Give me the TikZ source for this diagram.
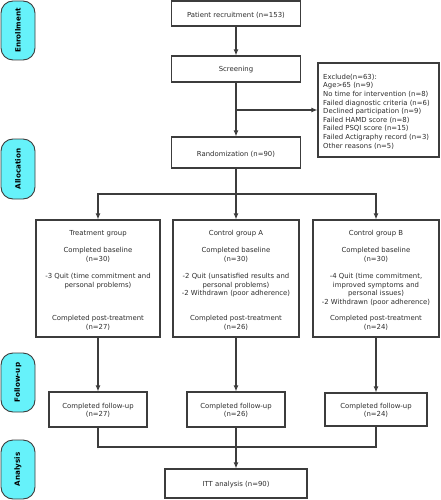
\documentclass[tikz,border=0pt]{standalone}
\usepackage{fontspec}
\setmainfont{DejaVu Sans}
\usetikzlibrary{arrows.meta}
\definecolor{linec}{RGB}{60,60,60}
\definecolor{cyanf}{RGB}{102,242,250}
\definecolor{txtc}{RGB}{45,45,45}
\begin{document}
\begin{tikzpicture}[x=1pt,y=-1pt,
  box/.style={draw=linec, line width=1.1pt, fill=white, inner sep=0, anchor=center},
  pill/.style={draw=linec, fill=cyanf, rounded corners=12pt, line width=0.9pt, inner sep=0, anchor=center},
  pilltxt/.style={font=\fontsize{7.2}{8}\selectfont\bfseries, rotate=90, text=black},
  txt/.style={font=\fontsize{6.9}{8.5}\selectfont, align=center, inner sep=0, text=txtc},
  ltxt/.style={font=\fontsize{6.9}{8.6}\selectfont, align=left, inner sep=0, text=txtc},
  arr/.style={-{Latex[length=6pt,width=5pt]}, draw=linec, line width=1.1pt},
  ln/.style={draw=linec, line width=1.1pt}]
\useasboundingbox (0,0) rectangle (440,500);

% phase pills
\node[pill, minimum width=34pt, minimum height=59pt] (en) at (18,30.5) {};
\node[pilltxt] (ent) at (en.center) {Enrollment};
\node[pill, minimum width=34pt, minimum height=60pt] (al) at (18,169) {};
\node[pilltxt] (alt) at (al.center) {Allocation};
\node[pill, minimum width=34pt, minimum height=59pt] (fo) at (18,382.5) {};
\node[pilltxt] (fot) at (fo.center) {Follow-up};
\node[pill, minimum width=34pt, minimum height=59pt] (an) at (18,469.5) {};
\node[pilltxt] (ant) at (an.center) {Analysis};

% main boxes
\node[box, minimum width=129pt, minimum height=25pt] (rec) at (236,13.5) {};
\node[txt] (rect) at (236,15) {Patient recruitment (n=153)};
\node[box, minimum width=129pt, minimum height=26pt] (scr) at (236,69) {};
\node[txt] (scrt) at (236,70) {Screening};
\node[box, minimum width=129pt, minimum height=31pt] (ran) at (236,152.5) {};
\node[txt] (rant) at (236,154) {Randomization (n=90)};
\node[box, minimum width=121pt, minimum height=94pt] (exc) at (378.5,110) {};
\node[ltxt, anchor=west] (exct) at (323,111.5) {Exclude(n=63):\\Age>65 (n=9)\\No time for intervention (n=8)\\Failed diagnostic criteria (n=6)\\Declined participation (n=9)\\Failed HAMD score (n=8)\\Failed PSQI score (n=15)\\Failed Actigraphy record (n=3)\\Other reasons (n=5)};

% group boxes
\node[box, minimum width=124pt, minimum height=117pt] (trt) at (98,278.5) {};
\node[box, minimum width=126pt, minimum height=117pt] (ca) at (236,278.5) {};
\node[box, minimum width=126pt, minimum height=117pt] (cb) at (376,278.5) {};

\node[txt] (t1) at (98,234) {Treatment group};
\node[txt] (t2) at (98,255) {Completed baseline\\(n=30)};
\node[txt] (t3) at (98,281) {-3 Quit (time commitment and\\personal problems)};
\node[txt] (t4) at (98,323) {Completed post-treatment\\(n=27)};

\node[txt] (a1) at (236,234) {Control group A};
\node[txt] (a2) at (236,255) {Completed baseline\\(n=30)};
\node[txt] (a3) at (236,285.3) {-2 Quit (unsatisfied results and\\personal problems)\\-2 Withdrawn (poor adherence)};
\node[txt] (a4) at (236,323) {Completed post-treatment\\(n=26)};

\node[txt] (b1) at (376,234) {Control group B};
\node[txt] (b2) at (376,255) {Completed baseline\\(n=30)};
\node[txt] (b3) at (376,289.5) {-4 Quit (time commitment,\\improved symptoms and\\personal issues)\\-2 Withdrawn (poor adherence)};
\node[txt] (b4) at (376,323) {Completed post-treatment\\(n=24)};

% follow-up boxes
\node[box, minimum width=98pt, minimum height=35pt] (fu1) at (98,409.5) {};
\node[txt] (fu1t) at (98,410.5) {Completed follow-up\\(n=27)};
\node[box, minimum width=98pt, minimum height=35pt] (fu2) at (236,409.5) {};
\node[txt] (fu2t) at (236,410.5) {Completed follow-up\\(n=26)};
\node[box, minimum width=102pt, minimum height=33pt] (fu3) at (376,409.5) {};
\node[txt] (fu3t) at (376,410.5) {Completed follow-up\\(n=24)};

\node[box, minimum width=142pt, minimum height=29pt] (itt) at (236,483.5) {};
\node[txt] (ittt) at (236,485) {ITT analysis (n=90)};

% connectors
\coordinate (j1) at (236,110);
\coordinate (split) at (236,194);
\coordinate (j2) at (236,447);
\draw[arr] (rec.south) -- (scr.north);
\draw[arr] (scr.south) -- (ran.north);
\draw[arr] (j1) -- (exc.west);
\draw[ln] (ran.south) -- (split);
\draw[arr] (split) -| (trt.north);
\draw[arr] (split) -- (ca.north);
\draw[arr] (split) -| (cb.north);
\draw[arr] (trt.south) -- (fu1.north);
\draw[arr] (ca.south) -- (fu2.north);
\draw[arr] (cb.south) -- (fu3.north);
\draw[ln] (fu1.south) |- (j2) -| (fu3.south);
\draw[arr] (fu2.south) -- (itt.north);
\end{tikzpicture}
\end{document}
